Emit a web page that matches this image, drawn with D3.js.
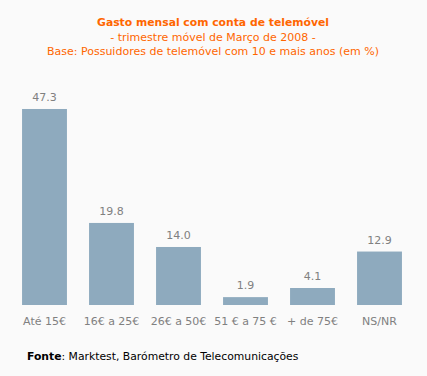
<!DOCTYPE html>
<html>
<head>
<meta charset="utf-8">
<script src="https://cdn.jsdelivr.net/npm/d3@7"></script>
<style>
  body { margin: 0; background: #fafafa; }
  svg { display: block; font-family: Verdana, "DejaVu Sans", sans-serif; }
</style>
</head>
<body>
<svg class="chart"></svg>
<script>
const svgWidth = 427;
const svgHeight = 376;

// data
const categories = ["Até 15€", "16€ a 25€", "26€ a 50€", "51 € a 75 €", "+ de 75€", "NS/NR"];
const values = [47.3, 19.8, 14.0, 1.9, 4.1, 12.9];
const valueLabels = ["47.3", "19.8", "14.0", "1.9", "4.1", "12.9"];

const svg = d3.select('.chart')
  .attr("width", svgWidth)
  .attr("height", svgHeight);

svg.append("rect")
  .attr("width", svgWidth)
  .attr("height", svgHeight)
  .attr("fill", "#fafafa");

// titles
svg.append("text")
  .attr("x", 213).attr("y", 26)
  .attr("text-anchor", "middle")
  .attr("fill", "#ff6600")
  .style("font-size", "10.8px")
  .style("font-weight", "bold")
  .text("Gasto mensal com conta de telemóvel");
svg.append("text")
  .attr("x", 213).attr("y", 41)
  .attr("text-anchor", "middle")
  .attr("fill", "#ff6600")
  .style("font-size", "11px")
  .text("- trimestre móvel de Março de 2008 -");
svg.append("text")
  .attr("x", 213).attr("y", 55)
  .attr("text-anchor", "middle")
  .attr("fill", "#ff6600")
  .style("font-size", "11px")
  .text("Base: Possuidores de telemóvel com 10 e mais anos (em %)");

// scales
var x = d3.scaleBand()
  .domain(categories)
  .range([11, 413])
  .paddingInner(0.33)
  .paddingOuter(0.165);

var y = d3.scaleLinear()
  .domain([0, 50])
  .range([305, 97.8]);

// bars
svg.selectAll(".bar")
  .data(values)
  .enter().append("rect")
  .attr("class", "bar")
  .attr("x", (d, i) => x(categories[i]))
  .attr("y", d => y(d))
  .attr("width", x.bandwidth())
  .attr("height", d => y(0) - y(d))
  .attr("fill", "#8eaabe");

// value labels
svg.selectAll(".val")
  .data(values)
  .enter().append("text")
  .attr("class", "val")
  .attr("x", (d, i) => x(categories[i]) + x.bandwidth() / 2)
  .attr("y", d => y(d) - 8)
  .attr("text-anchor", "middle")
  .attr("fill", "#808080")
  .style("font-size", "11px")
  .text((d, i) => valueLabels[i]);

// x axis labels
var xAxis = svg.append("g")
  .attr("transform", "translate(0," + y(0) + ")")
  .call(d3.axisBottom(x).tickSize(0).tickPadding(12));
xAxis.select(".domain").remove();
xAxis.selectAll("text")
  .attr("fill", "#808080")
  .style("font-size", "11px")
  .style("font-family", "Verdana, 'DejaVu Sans', sans-serif");

// source
var src = svg.append("text")
  .attr("x", 27).attr("y", 360)
  .attr("fill", "#000")
  .style("font-size", "10.8px");
src.append("tspan").style("font-weight", "bold").text("Fonte");
src.append("tspan").text(": Marktest, Barómetro de Telecomunicações");
</script>
</body>
</html>
